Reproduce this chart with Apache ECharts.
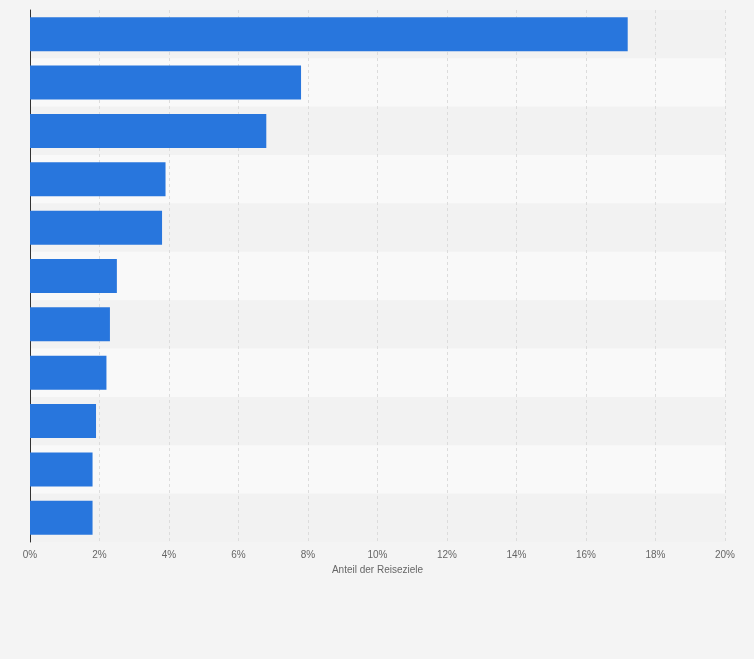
<!DOCTYPE html>
<html><head><meta charset="utf-8">
<script src="https://cdn.jsdelivr.net/npm/echarts@6/dist/echarts.min.js"></script>
<style>html,body{margin:0;padding:0;background:#f4f4f4}#c{width:754px;height:659px}</style>
</head><body><div id="c"></div>
<script>
const categories = ['1','2','3','4','5','6','7','8','9','10','11'];
const values = [17.2, 7.8, 6.8, 3.9, 3.8, 2.5, 2.3, 2.2, 1.9, 1.8, 1.8];
const xTicks = [0,2,4,6,8,10,12,14,16,18,20];
const chart = echarts.init(document.getElementById('c'));
chart.setOption({
  backgroundColor:'#f4f4f4',
  grid:{left:30,right:29,top:10,bottom:117},
  xAxis:{type:'value',min:0,max:20,interval:2,
    name:'Anteil der Reiseziele',nameLocation:'middle',nameGap:22,
    nameTextStyle:{color:'#666',fontSize:10,fontFamily:'Arial'},
    axisLabel:{color:'#666',fontSize:10,fontFamily:'Arial',formatter:v=>v+'%'},
    axisLine:{show:false},axisTick:{show:false},
    splitLine:{show:true,lineStyle:{color:'#dcdcdc',type:[3,3]}}},
  yAxis:{type:'category',data:categories,inverse:true,
    axisLabel:{show:false},axisTick:{show:false},
    axisLine:{show:true,lineStyle:{color:'#333'}},
    splitArea:{show:true,areaStyle:{color:['#f2f2f2','#f9f9f9']}}},
  series:[{type:'bar',data:values,barWidth:34,itemStyle:{color:'#2876dd'},z:3}]
});
</script></body></html>
